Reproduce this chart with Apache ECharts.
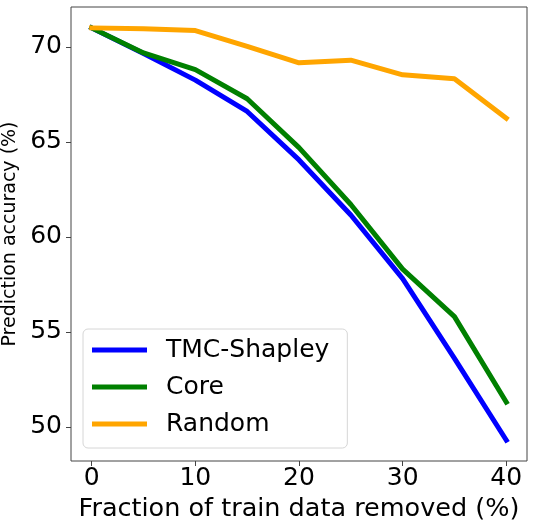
<!DOCTYPE html>
<html>
<head>
<meta charset="utf-8">
<script src="https://cdn.jsdelivr.net/npm/echarts@6/dist/echarts.min.js"></script>
<style>
  html, body { margin: 0; padding: 0; background: #fff; }
  #chart { width: 534px; height: 527px; }
</style>
</head>
<body>
<div id="chart"></div>
<script>
// fraction of train data removed (%)
const removed = [0, 5, 10, 15, 20, 25, 30, 35, 40]
const tmcShapley = [71.0, 69.65, 68.25, 66.6, 64.05, 61.15, 57.8, 53.6, 49.3]
const core = [71.0, 69.68, 68.8, 67.27, 64.7, 61.7, 58.3, 55.8, 51.3]
const random = [71.0, 70.96, 70.86, 70.03, 69.16, 69.3, 68.53, 68.32, 66.24]
const xTicks = [0, 10, 20, 30, 40]
const yTicks = [50, 55, 60, 65, 70]

const font = 'DejaVu Sans'

function pairs(ys) {
  return removed.map((x, i) => [x, ys[i]])
}

function line(name, ys, color) {
  return {
    name: name,
    type: 'line',
    data: pairs(ys),
    showSymbol: false,
    smooth: false,
    lineStyle: { width: 5, color: color, cap: 'square' },
    itemStyle: { color: color },
    animation: false
  }
}

let option = {
  backgroundColor: '#fff',
  textStyle: { fontFamily: font },
  grid: {
    left: 71, right: 7, top: 7, bottom: 66,
    show: true, borderColor: '#444', borderWidth: 1,
    containLabel: false,
    outerBoundsMode: 'none'
  },
  xAxis: {
    type: 'value',
    min: -2, max: 42,
    name: 'Fraction of train data removed (%)',
    nameLocation: 'middle',
    nameGap: 31,
    nameTextStyle: { fontSize: 25.5, color: '#000', fontFamily: font },
    axisLine: { show: false, onZero: false },
    axisTick: { show: true, length: 5, lineStyle: { color: '#444' }, customValues: xTicks },
    axisLabel: { fontSize: 25, color: '#000', margin: 5, fontFamily: font, customValues: xTicks },
    splitLine: { show: false }
  },
  yAxis: {
    type: 'value',
    min: 48.2, max: 72.1,
    name: 'Prediction accuracy (%)',
    nameLocation: 'middle',
    nameRotate: 90,
    nameGap: 41,
    nameTextStyle: { fontSize: 19, color: '#000', fontFamily: font },
    axisLine: { show: false, onZero: false },
    axisTick: { show: true, length: 5, lineStyle: { color: '#444' }, customValues: yTicks },
    axisLabel: { fontSize: 25, color: '#000', margin: 9, fontFamily: font, customValues: yTicks },
    splitLine: { show: false }
  },
  legend: {
    orient: 'vertical',
    left: 83, top: 329,
    icon: 'rect',
    itemWidth: 55, itemHeight: 5,
    itemGap: 11,
    padding: [8, 18, 11, 9],
    backgroundColor: '#fff',
    borderColor: '#d6d6d6', borderWidth: 1, borderRadius: 5,
    textStyle: { fontSize: 25, color: '#000', fontFamily: font, lineHeight: 26, padding: [0, 0, 0, 14] },
    data: ['TMC-Shapley', 'Core', 'Random']
  },
  series: [
    line('TMC-Shapley', tmcShapley, '#0000ff'),
    line('Core', core, '#008000'),
    line('Random', random, '#ffa500')
  ]
}

var myChart = echarts.init(document.getElementById('chart'), null, { renderer: 'canvas' })
myChart.setOption(option, true)
</script>
</body>
</html>
